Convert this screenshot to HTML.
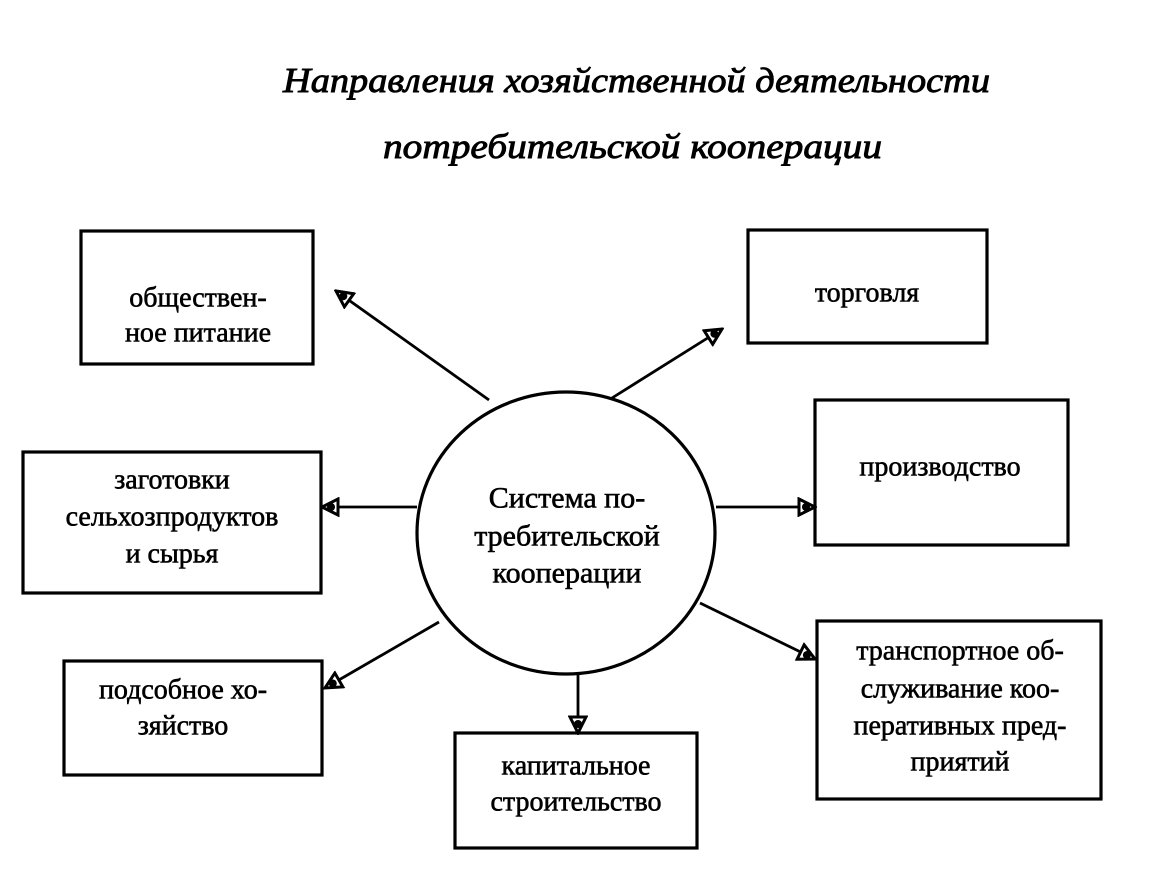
<!DOCTYPE html>
<html><head><meta charset="utf-8"><style>
html,body{margin:0;padding:0;background:#fff;}
svg{display:block;}
text{font-family:"Liberation Serif",serif;fill:#000;stroke:#000;stroke-width:0.6;}
</style></head><body>
<svg width="1174" height="875" viewBox="0 0 1174 875" xmlns="http://www.w3.org/2000/svg">
<defs>
<marker id="ah" viewBox="0 0 20 20" refX="18" refY="10" markerWidth="20" markerHeight="20" markerUnits="userSpaceOnUse" orient="auto">
<polygon points="2,2 18,10 2,18" fill="#fff" stroke="#000" stroke-width="3"/>
<circle cx="9" cy="10" r="4" fill="#000"/>
</marker>
</defs>
<text x="283" y="92" font-size="35" font-style="italic" textLength="707" lengthAdjust="spacingAndGlyphs" style="stroke-width:0.9">Направления хозяйственной деятельности</text>
<text x="383" y="158" font-size="35" font-style="italic" textLength="499" lengthAdjust="spacingAndGlyphs" style="stroke-width:0.9">потребительской кооперации</text>

<g fill="none" stroke="#000" stroke-width="3.2">
<rect x="81" y="231" width="232" height="133"/>
<rect x="748" y="230" width="239" height="113"/>
<rect x="815" y="400" width="253" height="145"/>
<rect x="23" y="452" width="298" height="141"/>
<rect x="64" y="661" width="258" height="114"/>
<rect x="455" y="733" width="242" height="115"/>
<rect x="817" y="621" width="284" height="178"/>
<ellipse cx="566" cy="533" rx="149" ry="141"/>
</g>
<g stroke="#000" stroke-width="2.8" marker-end="url(#ah)">
<line x1="489" y1="400" x2="336" y2="291"/>
<line x1="612" y1="398" x2="722" y2="329"/>
<line x1="417" y1="507" x2="322" y2="507"/>
<line x1="716" y1="507" x2="815" y2="507"/>
<line x1="439" y1="622" x2="325" y2="688"/>
<line x1="700" y1="603" x2="815" y2="659"/>
<line x1="578" y1="674" x2="578" y2="733"/>
</g>

<g font-size="28" text-anchor="middle" dominant-baseline="central">
<text x="198" y="298">обществен-</text>
<text x="198" y="333">ное питание</text>
<text x="867" y="293">торговля</text>
<text x="940" y="467">производство</text>
<text x="172" y="480">заготовки</text>
<text x="172" y="517">сельхозпродуктов</text>
<text x="172" y="554">и сырья</text>
<text x="183" y="690">подсобное хо-</text>
<text x="183" y="726">зяйство</text>
<text x="576" y="766">капитальное</text>
<text x="576" y="802">строительство</text>
<text x="960" y="651">транспортное об-</text>
<text x="960" y="689">служивание коо-</text>
<text x="960" y="726">перативных пред-</text>
<text x="960" y="762">приятий</text>
</g>
<g font-size="30" text-anchor="middle" dominant-baseline="central">
<text x="567" y="498">Система по-</text>
<text x="567" y="536">требительской</text>
<text x="567" y="573">кооперации</text>
</g>
</svg>
</body></html>
